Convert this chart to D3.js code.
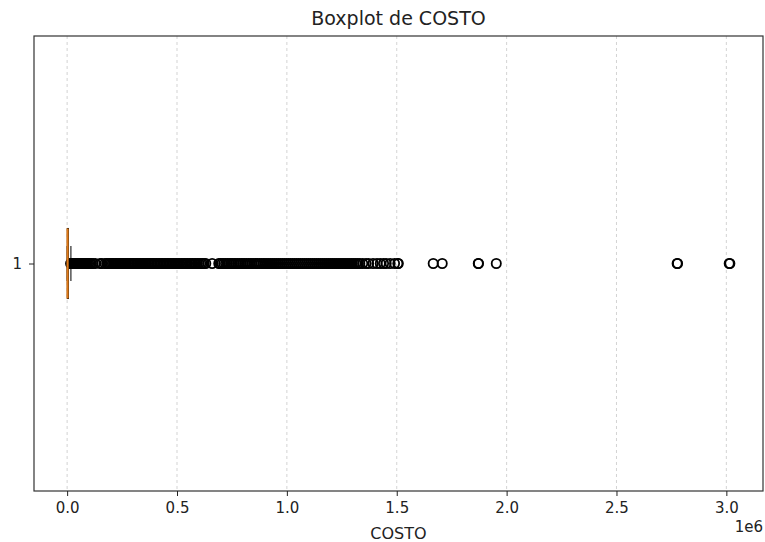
<!DOCTYPE html>
<html>
<head>
  <meta charset="utf-8">
  <title>Boxplot de COSTO</title>
  <style>
    body { margin: 0; background: #fff; }
    text { font-family: "DejaVu Sans", sans-serif; fill: #222; }
  </style>
</head>
<body>
  <div class="area"></div>

  <script src="https://cdn.jsdelivr.net/npm/d3@7"></script>
  <script type="text/javascript">

  // data, in units of 1e6
  var categories = ['1'];
  var xTicks = [0, 0.5, 1.0, 1.5, 2.0, 2.5, 3.0];
  var boxStats = {whislo: 0, q1: 0.0008, med: 0.002, q3: 0.006, whishi: 0.017};
  var outliers = [
    0.016, 0.018, 0.020, 0.022, 0.025, 0.027, 0.030, 0.033, 0.036, 0.039,
    0.042, 0.045, 0.048, 0.052, 0.055, 0.058, 0.062, 0.066, 0.070, 0.074,
    0.078, 0.083, 0.088, 0.093, 0.098, 0.104, 0.110, 0.118, 0.128, 0.150,
    0.158, 0.172, 0.180, 0.186, 0.193, 0.200, 0.206, 0.212, 0.219, 0.225,
    0.232, 0.238, 0.245, 0.251, 0.258, 0.264, 0.270, 0.277, 0.283, 0.290,
    0.296, 0.303, 0.309, 0.316, 0.322, 0.329, 0.335, 0.342, 0.348, 0.355,
    0.361, 0.368, 0.374, 0.381, 0.387, 0.394, 0.400, 0.407, 0.414, 0.421,
    0.428, 0.435, 0.442, 0.449, 0.456, 0.463, 0.470, 0.477, 0.484, 0.491,
    0.498, 0.505, 0.512, 0.520, 0.527, 0.534, 0.541, 0.548, 0.556, 0.563,
    0.570, 0.578, 0.585, 0.593, 0.600, 0.608, 0.615, 0.623, 0.631, 0.660,
    0.690, 0.697, 0.705, 0.713, 0.721, 0.729, 0.737, 0.745, 0.752, 0.760,
    0.768, 0.776, 0.784, 0.792, 0.800, 0.808, 0.816, 0.825, 0.833, 0.841,
    0.850, 0.858, 0.866, 0.875, 0.883, 0.892, 0.900, 0.909, 0.918, 0.927,
    0.936, 0.945, 0.954, 0.963, 0.972, 0.981, 0.990, 0.999, 1.008, 1.017,
    1.026, 1.035, 1.044, 1.053, 1.062, 1.071, 1.080, 1.089, 1.098, 1.107,
    1.116, 1.125, 1.134, 1.143, 1.152, 1.161, 1.170, 1.179, 1.188, 1.197,
    1.206, 1.215, 1.224, 1.233, 1.242, 1.251, 1.260, 1.269, 1.278, 1.287,
    1.296, 1.305, 1.314, 1.323, 1.332, 1.345, 1.360, 1.372, 1.392, 1.410,
    1.425, 1.440, 1.452, 1.470, 1.490, 1.505, 1.507,
    1.666, 1.707, 1.871, 1.872, 1.953, 2.776, 2.778, 3.013, 3.016
  ];

  var w = 765, h = 542;
  var margin = {top: 36, right: 2, bottom: 51, left: 34};

  var svg = d3.select('.area')
    .append('svg')
    .attr('width', w)
    .attr('height', h);

  var xMin = 0, xMax = d3.max(outliers), pad = (xMax - xMin) * 0.05;

  var x = d3.scaleLinear()
    .domain([xMin - pad, xMax + pad])
    .range([margin.left, w - margin.right]);

  var y = d3.scaleLinear()
    .domain([0.5, 1.5])
    .range([h - margin.bottom, margin.top]);

  var boxW = 0.154;

  // grid
  svg.append('g').selectAll('line').data(xTicks).enter().append('line')
    .attr('x1', function(d){ return x(d) }).attr('x2', function(d){ return x(d) })
    .attr('y1', margin.top).attr('y2', h - margin.bottom)
    .attr('stroke', '#b0b0b0').attr('stroke-opacity', 0.7)
    .attr('stroke-width', 0.8).attr('stroke-dasharray', '3,3');

  // whiskers + caps
  var c = 1;
  svg.append('line')
    .attr('x1', x(boxStats.q3)).attr('x2', x(boxStats.whishi))
    .attr('y1', y(c)).attr('y2', y(c))
    .attr('stroke', '#000').attr('stroke-width', 1);
  [boxStats.whislo, boxStats.whishi].forEach(function(v){
    svg.append('line')
      .attr('x1', x(v)).attr('x2', x(v))
      .attr('y1', y(c - boxW / 4)).attr('y2', y(c + boxW / 4))
      .attr('stroke', '#555').attr('stroke-width', 1.5);
  });

  // box
  svg.append('rect')
    .attr('x', x(boxStats.q1))
    .attr('width', Math.max(1, x(boxStats.q3) - x(boxStats.q1)))
    .attr('y', y(c + boxW / 2))
    .attr('height', y(c - boxW / 2) - y(c + boxW / 2))
    .attr('fill', 'none').attr('stroke', '#000').attr('stroke-width', 1);

  // outliers
  svg.append('g').selectAll('circle').data(outliers).enter().append('circle')
    .attr('cx', function(d){ return x(d) })
    .attr('cy', y(c))
    .attr('r', 4.6)
    .attr('fill', 'none')
    .attr('stroke', '#000')
    .attr('stroke-width', 1.8);

  // median
  svg.append('line')
    .attr('x1', x(boxStats.med)).attr('x2', x(boxStats.med))
    .attr('y1', y(c + boxW / 2)).attr('y2', y(c - boxW / 2))
    .attr('stroke', '#e07b1a').attr('stroke-width', 2.2);

  // frame
  svg.append('rect')
    .attr('x', margin.left).attr('y', margin.top)
    .attr('width', w - margin.right - margin.left)
    .attr('height', h - margin.bottom - margin.top)
    .attr('fill', 'none').attr('stroke', '#333').attr('stroke-width', 1.2);

  // x axis
  var xAxis = d3.axisBottom(x).tickValues(xTicks)
    .tickFormat(d3.format('.1f')).tickSize(5).tickPadding(6);
  var gx = svg.append('g')
    .attr('transform', 'translate(0,' + (h - margin.bottom) + ')')
    .call(xAxis);
  gx.attr('font-size', null).attr('font-family', null);
  gx.select('.domain').remove();
  gx.selectAll('text').attr('fill', '#333').attr('font-size', '15px');
  gx.selectAll('line').attr('stroke', '#222');

  // y axis
  var yAxis = d3.axisLeft(y).tickValues([1])
    .tickFormat(function(){ return categories[0] }).tickSize(5).tickPadding(7);
  var gy = svg.append('g')
    .attr('transform', 'translate(' + margin.left + ',0)')
    .call(yAxis);
  gy.attr('font-size', null).attr('font-family', null);
  gy.select('.domain').remove();
  gy.selectAll('text').attr('fill', '#333').attr('font-size', '15px');
  gy.selectAll('line').attr('stroke', '#222');

  // labels
  svg.append('text')
    .attr('x', (margin.left + w - margin.right) / 2).attr('y', 25)
    .attr('text-anchor', 'middle').style('font-size', '19px')
    .text('Boxplot de COSTO');

  svg.append('text')
    .attr('x', (margin.left + w - margin.right) / 2).attr('y', 539)
    .attr('text-anchor', 'middle').style('font-size', '16px')
    .text('COSTO');

  svg.append('text')
    .attr('x', w - margin.right).attr('y', 532)
    .attr('text-anchor', 'end').style('font-size', '15px')
    .text('1e6');

  </script>
</body>
</html>
